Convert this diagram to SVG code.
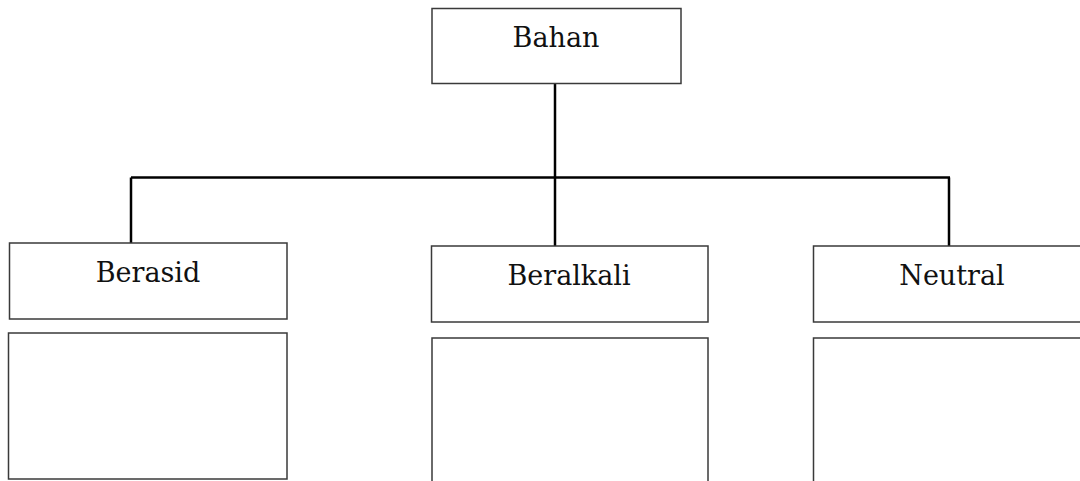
<svg xmlns="http://www.w3.org/2000/svg" width="1080" height="481" viewBox="0 0 1080 481">
<style>
.box{fill:#fff;stroke:#3a3a3a;stroke-width:1.5}
.lbl{font-family:"DejaVu Serif","Liberation Serif",serif;font-size:27px;fill:#111;text-anchor:middle}
.con{fill:none;stroke:#000;stroke-width:2.5}
</style>
<rect width="1080" height="481" fill="#fff"/>
<g id="connectors">
<line class="con" x1="555" y1="83" x2="555" y2="246"/>
<line class="con" x1="131" y1="177.5" x2="950" y2="177.5"/>
<line class="con" x1="131" y1="177.5" x2="131" y2="243"/>
<line class="con" x1="949" y1="177.5" x2="949" y2="246"/>
</g>
<g id="bahan">
<rect class="box" x="432" y="8.5" width="249" height="75"/>
<text class="lbl" x="556" y="47">Bahan</text>
</g>
<g id="berasid">
<rect class="box" x="9.5" y="243" width="277.5" height="76"/>
<text class="lbl" x="148" y="282">Berasid</text>
</g>
<g id="berasid-blank">
<rect class="box" x="8.5" y="333" width="278.5" height="146"/>
</g>
<g id="beralkali">
<rect class="box" x="431.5" y="246" width="276.5" height="76"/>
<text class="lbl" x="569" y="285">Beralkali</text>
</g>
<g id="beralkali-blank">
<rect class="box" x="432" y="338" width="276" height="160"/>
</g>
<g id="neutral">
<rect class="box" x="813.5" y="246" width="280" height="76"/>
<text class="lbl" x="952" y="285">Neutral</text>
</g>
<g id="neutral-blank">
<rect class="box" x="813.5" y="338" width="280" height="160"/>
</g>
</svg>
